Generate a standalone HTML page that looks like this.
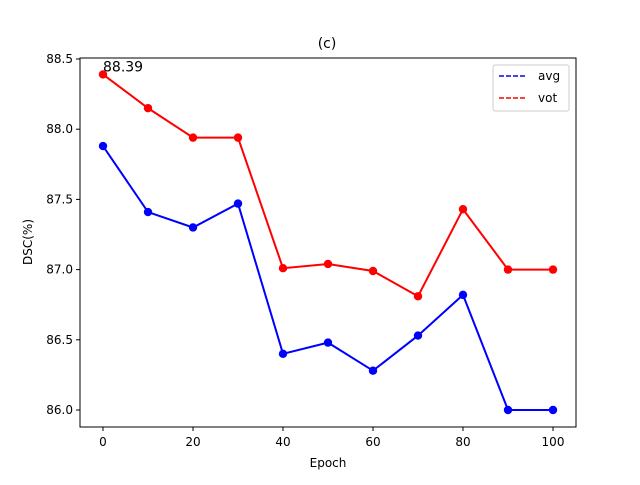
<!DOCTYPE html>
<html><head><meta charset="utf-8"><style>
body{margin:0;background:#fff}
text{font-family:"DejaVu Sans","Liberation Sans",sans-serif;fill:#000}
</style></head><body>
<svg id="c" width="640" height="480" xmlns="http://www.w3.org/2000/svg">
<rect width="640" height="480" fill="#fff"/>
<text x="327" y="48" font-size="14" text-anchor="middle">(c)</text>
<g id="plot"></g>
<rect x="80" y="58" width="496" height="369" fill="none" stroke="#000" stroke-width="1"/>
<text x="328" y="467" font-size="12" text-anchor="middle">Epoch</text>
<text transform="translate(32,242) rotate(-90)" font-size="12" text-anchor="middle">DSC(%)</text>
<g>
<rect x="493" y="65" width="76" height="46" rx="2" fill="#fff" stroke="#ccc"/>
<line x1="499" y1="76" x2="527" y2="76" stroke="#0000ff" stroke-width="1.5" stroke-dasharray="5,2"/>
<text x="538" y="80" font-size="12">avg</text>
<line x1="499" y1="98" x2="527" y2="98" stroke="#ff0000" stroke-width="1.5" stroke-dasharray="5,2"/>
<text x="538" y="102" font-size="12">vot</text>
</g>
</svg>
<script>
const epochs=[0,10,20,30,40,50,60,70,80,90,100];
const avg=[87.88,87.41,87.30,87.47,86.40,86.48,86.28,86.53,86.82,86.00,86.00];
const vot=[88.39,88.15,87.94,87.94,87.01,87.04,86.99,86.81,87.43,87.00,87.00];
const xTicks=[0,20,40,60,80,100];
const yTicks=[86.0,86.5,87.0,87.5,88.0,88.5];
const NS="http://www.w3.org/2000/svg";
const xs=v=>103+v*4.5;
const ys=v=>410-(v-86)*140.4;
const g=document.getElementById('plot');
function mk(t,a){const e=document.createElementNS(NS,t);for(const k in a)e.setAttribute(k,a[k]);g.appendChild(e);return e;}
xTicks.forEach(v=>{
 const l=mk('line',{x1:xs(v),x2:xs(v),y1:427,y2:431,stroke:'#000'});
 
 
 const t=mk('text',{x:xs(v),y:446,'font-size':12,'text-anchor':'middle'});t.textContent=v;
 
 
});
yTicks.forEach(v=>{
 const l=mk('line',{x1:76,x2:80,y1:ys(v),y2:ys(v),stroke:'#000'});
 
 
 const t=mk('text',{x:73,y:ys(v)+4,'font-size':12,'text-anchor':'end'});t.textContent=v.toFixed(1);
 
 
});
function series(d,c,n){
 const p=mk('polyline',{points:d.map((v,i)=>xs(epochs[i])+','+ys(v)).join(' '),fill:'none',stroke:c,'stroke-width':2});
 
 
 d.forEach((v,i)=>{const m=mk('circle',{cx:xs(epochs[i]),cy:ys(v),r:4.2,fill:c});
 
 });
}
series(avg,'#0000ff','avg');
series(vot,'#ff0000','vot');
const a=mk('text',{x:xs(epochs[0]),y:ys(vot[0])-3,'font-size':14});a.textContent=vot[0].toFixed(2);


</script>
</body></html>
